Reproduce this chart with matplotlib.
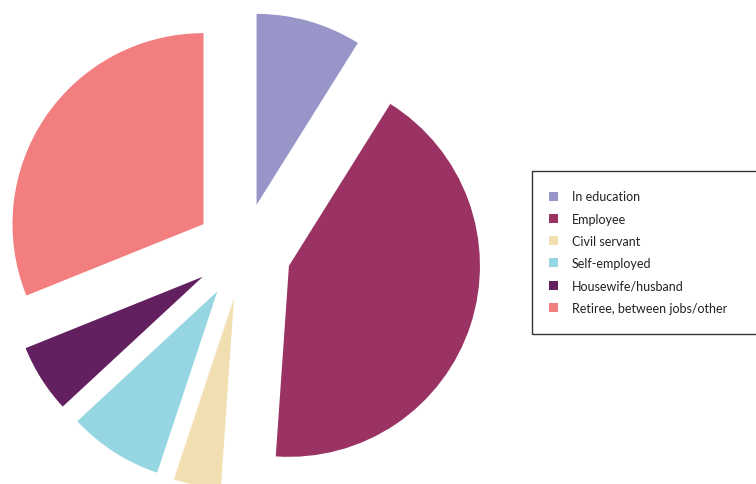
import matplotlib.pyplot as plt
from matplotlib.patches import Rectangle

# share of respondents by occupation (%)
labels = ["In education", "Employee", "Civil servant", "Self-employed",
          "Housewife/husband", "Retiree, between jobs/other"]
shares = [8.9, 42.2, 4.0, 8.0, 5.8, 31.1]
colors = ["#9896C9", "#9A3364", "#F1DFB1", "#95D6E2", "#632060", "#F27E80"]

W, H = 756, 485
fig = plt.figure(figsize=(W / 100, H / 100), dpi=100)
ax = fig.add_axes([0, 0, 1, 1])

wedges, _ = ax.pie(
    shares,
    colors=colors,
    startangle=90,
    counterclock=False,
    radius=191,
    center=(243.3, H - 252),
    explode=[48] * len(shares),
    wedgeprops=dict(linewidth=0),
)
ax.set_xlim(0, W)
ax.set_ylim(0, H)
ax.set_aspect("equal")
ax.axis("off")

# legend box runs off the right edge
fig.patches.append(Rectangle((532 / W, 1 - 335 / H), 240 / W, 163 / H,
                             transform=fig.transFigure, fill=False,
                             edgecolor="#333333", linewidth=1.0))

fig.legend(wedges, labels, loc="upper left",
           bbox_to_anchor=(549 / W, 1 - 191.5 / H),
           frameon=False, prop=dict(family="Lato", size=9),
           handlelength=0.75, handleheight=0.75, handletextpad=1.1,
           labelspacing=0.82, borderpad=0, borderaxespad=0,
           labelcolor="#222222")

fig.savefig("out.png", dpi=100)
